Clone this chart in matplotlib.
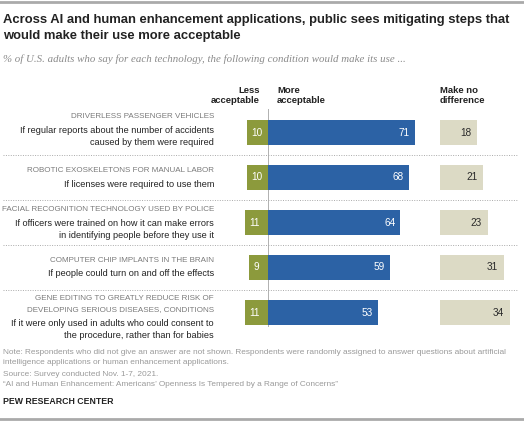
import matplotlib
matplotlib.use("Agg")
import matplotlib.pyplot as plt

## data
categories = [
    ["DRIVERLESS PASSENGER VEHICLES"],
    ["ROBOTIC EXOSKELETONS FOR MANUAL LABOR"],
    ["FACIAL RECOGNITION TECHNOLOGY USED BY POLICE"],
    ["COMPUTER CHIP IMPLANTS IN THE BRAIN"],
    ["GENE EDITING TO GREATLY REDUCE RISK OF", "DEVELOPING SERIOUS DISEASES, CONDITIONS"],
]
conditions = [
    ["If regular reports about the number of accidents", "caused by them were required"],
    ["If licenses were required to use them"],
    ["If officers were trained on how it can make errors", "in identifying people before they use it"],
    ["If people could turn on and off the effects"],
    ["If it were only used in adults who could consent to", "the procedure, rather than for babies"],
]
less_acc = [10, 10, 11, 9, 11]
more_acc = [71, 68, 64, 59, 53]
no_diff = [18, 21, 23, 31, 34]

notes = [
    "Note: Respondents who did not give an answer are not shown. Respondents were randomly assigned to answer questions about artificial",
    "intelligence applications or human enhancement applications.",
    "Source: Survey conducted Nov. 1-7, 2021.",
    "\u201cAI and Human Enhancement: Americans\u2019 Openness Is Tempered by a Range of Concerns\u201d",
]

GREEN = "#8c9a3c"
BLUE = "#2c62a5"
BEIGE = "#dcdac5"

W, H = 524, 422
fig = plt.figure(figsize=(W / 100, H / 100), dpi=100)
plt.rcParams["font.family"] = ["Liberation Sans", "DejaVu Sans"]

def fx(px):
    return px / W

def fy(py):
    return 1 - py / H

# bars axes: x in percent (2.07 px per point, zero at px 268), y in rows (45 px apart, row 0 at px 132.5)
ppu = 2.07
x0 = 268
row0, rowh = 132.5, 45
ax = fig.add_axes([0, 0, 1, 1])
ax.set_xlim(-x0 / ppu, (W - x0) / ppu)
ax.set_ylim((H - row0) / rowh, -row0 / rowh)
ax.axis("off")

nd_off = (440 - x0) / ppu
rows = list(range(len(categories)))
ax.barh(rows, [-v for v in less_acc], height=0.56, color=GREEN)
ax.barh(rows, more_acc, height=0.56, color=BLUE)
ax.barh(rows, no_diff, left=nd_off, height=0.56, color=BEIGE)

for i in rows:
    ax.text(-less_acc[i] + 2, i, str(less_acc[i]), color="white", fontsize=7.2, va="center", ha="left")
    ax.text(more_acc[i] - 2.5, i, str(more_acc[i]), color="white", fontsize=7.2, va="center", ha="right")
    ax.text(nd_off + no_diff[i] - 3, i, str(no_diff[i]), color="#2a2a2a", fontsize=7.2,
            va="center", ha="right")

# zero line
ax.plot([0, 0], [-0.53, 4.3], color="#b0b0b0", lw=0.7, zorder=0)

# dotted separators
for i in rows[:-1]:
    ax.plot([(3 - x0) / ppu, (518 - x0) / ppu], [i + 0.5, i + 0.5], color="#aaaaaa",
            lw=0.7, ls=(0, (1, 1.5)))

# row labels, line by line (pixel rows of first caps line)
label_y = [117, 171, 210, 260, 299]
text_x = fx(214)
for i in rows:
    y = label_y[i]
    for k, line in enumerate(categories[i]):
        if k:
            y += 11
        fig.text(text_x, fy(y), line, ha="right", va="center", fontsize=5.8, color="#7a7a7a")
    y += 13.5
    for line in conditions[i]:
        fig.text(text_x, fy(y), line, ha="right", va="center", fontsize=6.6, color="#222222")
        y += 12

# column headers
for px, lab, ha in [(260, "Less\nacceptable", "right"), (277, "More\nacceptable", "left"),
                    (440, "Make no\ndifference", "left")]:
    fig.text(fx(px), fy(105), lab, ha=ha, va="bottom", fontsize=6.8,
             fontweight="bold", color="#222222", linespacing=1.2)

# title and subtitle
fig.text(fx(3), fy(20), "Across AI and human enhancement applications, public sees mitigating steps that",
         ha="left", va="center", fontsize=9.35, fontweight="bold", color="#222222")
fig.text(fx(3), fy(35.5), "would make their use more acceptable",
         ha="left", va="center", fontsize=9.35, fontweight="bold", color="#222222")
fig.text(fx(3), fy(59), "% of U.S. adults who say for each technology, the following condition would make its use ...",
         ha="left", va="center", fontsize=7.8, style="italic", color="#8a8a8a",
         family=["Liberation Serif", "DejaVu Serif"])

# notes
for k, line in enumerate(notes):
    fig.text(fx(3), fy(352 + 11 * k), line, ha="left", va="center", fontsize=5.95, color="#9a9a9a")
fig.text(fx(3), fy(401), "PEW RESEARCH CENTER", ha="left", va="center", fontsize=6.3,
         fontweight="bold", color="#222222")

# top and bottom rules
fig.add_artist(plt.Line2D([0, 1], [fy(2), fy(2)], color="#aaaaaa", lw=2))
fig.add_artist(plt.Line2D([0, 1], [fy(418.5), fy(418.5)], color="#aaaaaa", lw=2))

fig.savefig("out.png", dpi=100)
